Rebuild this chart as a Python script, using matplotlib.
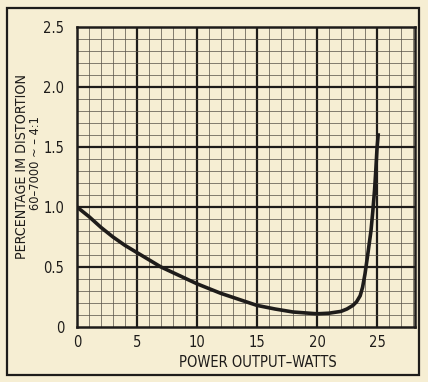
import matplotlib
matplotlib.use("Agg")
import matplotlib.pyplot as plt
from matplotlib.patches import Rectangle
import numpy as np

# curve
watts = [0, 1, 2, 3, 4, 5, 7, 8.5, 10, 12, 13.5, 15, 16.5, 18, 20, 21, 22, 22.5, 23, 23.3, 23.6, 23.8, 24, 24.2, 24.5, 24.65, 24.8, 24.9, 25, 25.1]
im_pct = [1.0, 0.92, 0.83, 0.75, 0.68, 0.62, 0.50, 0.43, 0.36, 0.28, 0.23, 0.18, 0.15, 0.125, 0.11, 0.115, 0.13, 0.15, 0.18, 0.21, 0.26, 0.33, 0.44, 0.58, 0.8, 0.96, 1.14, 1.3, 1.48, 1.6]

x_ticks = [0, 5, 10, 15, 20, 25]
y_ticks = [0, 0.5, 1.0, 1.5, 2.0, 2.5]
y_tick_labels = ["0", "0.5", "1.0", "1.5", "2.0", "2.5"]

paper = "#f6eed3"
ink = "#1e1c1a"
font = "DejaVu Sans"

fig = plt.figure(figsize=(4.28, 3.82), dpi=100, facecolor=paper)
ax = fig.add_axes([0.1799, 0.144, 0.7897, 0.7853])
ax.set_facecolor(paper)

# graph paper grid
for xv in np.arange(1, 29, 1):
    if xv % 5 == 0:
        ax.axvline(xv, color=ink, lw=1.6, zorder=1)
    else:
        ax.axvline(xv, color="#5a554a", lw=0.7, alpha=0.75, zorder=1)
for i in range(1, 25):
    if i % 5 == 0:
        ax.axhline(i / 10, color=ink, lw=1.6, zorder=1)
    else:
        ax.axhline(i / 10, color="#5a554a", lw=0.7, alpha=0.75, zorder=1)

ax.plot(watts, im_pct, color=ink, lw=2.6, solid_joinstyle="round", zorder=3)

ax.set_xlim(0, 28.17)
ax.set_ylim(0, 2.5)
ax.set_xticks(x_ticks)
ax.set_yticks(y_ticks)
ax.set_yticklabels(y_tick_labels)
ax.tick_params(length=0, colors=ink, labelsize=10.5)
ax.tick_params(axis="x", pad=6)
ax.tick_params(axis="y", pad=9)
for lab in ax.get_xticklabels() + ax.get_yticklabels():
    lab.set_family(font)
    lab.set_stretch("condensed")
for s in ax.spines.values():
    s.set_linewidth(1.8)
    s.set_color(ink)

fig.text(0.603, 0.052, "POWER OUTPUT\u2013WATTS", ha="center", va="center",
         fontsize=10.5, color=ink, family=font, stretch="condensed")
fig.text(0.052, 0.563, "PERCENTAGE IM DISTORTION", rotation=90, ha="center", va="center",
         fontsize=10.2, color=ink, family=font, stretch="condensed")
fig.text(0.084, 0.572, "60\u20137000 ~ \u2013 4:1", rotation=90, ha="center", va="center",
         fontsize=9.2, color=ink, family=font, stretch="condensed")

# outer frame
fig.patches.append(Rectangle((7 / 428, 1 - 375 / 382), 412 / 428, 367 / 382,
                             transform=fig.transFigure, fill=False, ec=ink, lw=1.6))

fig.savefig("out.png", dpi=100, facecolor=paper)
